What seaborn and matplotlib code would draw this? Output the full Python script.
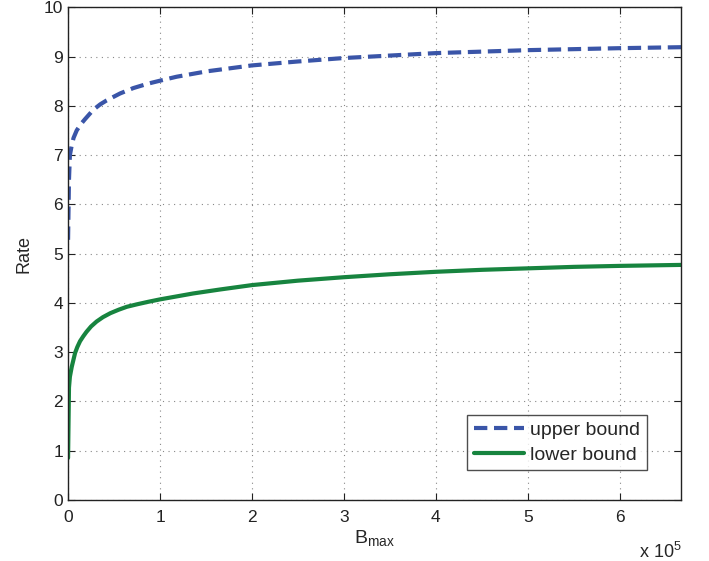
import seaborn as sns
import matplotlib.pyplot as plt
from matplotlib.ticker import FuncFormatter, MultipleLocator

# Values (x in units of B_max)
b_upper = [0, 1e3, 2e3, 4e3, 6e3, 9.4e3, 1.4e4, 1.85e4, 2.75e4, 3.5e4, 4.2e4,
           5.65e4, 7.1e4, 8.7e4, 1e5, 1.18e5, 1.51e5, 2e5, 2.5e5, 3e5, 3.5e5,
           4e5, 4.5e5, 5e5, 5.5e5, 6e5, 6.67e5]
rate_upper = [5.28, 6.5, 7.0, 7.2, 7.35, 7.5, 7.63, 7.73, 7.92, 8.03, 8.11,
              8.25, 8.36, 8.45, 8.51, 8.59, 8.7, 8.82, 8.9, 8.97, 9.02,
              9.07, 9.1, 9.13, 9.15, 9.17, 9.19]

b_lower = [0, 1e3, 2e3, 4e3, 7.6e3, 1e4, 1.3e4, 1.65e4, 2e4, 2.5e4, 3.1e4,
           3.8e4, 4.6e4, 5.5e4, 6.4e4, 7.5e4, 8.7e4, 1e5, 1.18e5, 1.36e5,
           1.65e5, 2e5, 2.5e5, 3e5, 3.5e5, 4e5, 4.5e5, 5e5, 5.5e5, 6e5, 6.67e5]
rate_lower = [0.85, 2.28, 2.5, 2.7, 2.98, 3.1, 3.22, 3.32, 3.41, 3.52, 3.62,
              3.71, 3.79, 3.86, 3.92, 3.97, 4.02, 4.07, 4.13, 4.19,
              4.27, 4.36, 4.45, 4.52, 4.58, 4.63, 4.67, 4.7, 4.73, 4.75, 4.77]

sns.set_theme(style='white')
plt.rcParams['font.family'] = ['Liberation Sans', 'DejaVu Sans']

fig, ax = plt.subplots(figsize=(7.09, 5.61), dpi=100)
fig.subplots_adjust(left=0.096, right=0.961, top=0.987, bottom=0.109)

sns.lineplot(x=b_upper, y=rate_upper, ax=ax, color='#3a55a8', lw=3,
             linestyle=(0, (3.2, 1.6)), label='upper bound')
sns.lineplot(x=b_lower, y=rate_lower, ax=ax, color='#17843f', lw=3,
             label='lower bound')

ax.set_xlim(0, 6.67e5)
ax.set_ylim(0, 10)
ax.xaxis.set_major_locator(MultipleLocator(1e5))
ax.yaxis.set_major_locator(MultipleLocator(1))
ax.xaxis.set_major_formatter(FuncFormatter(lambda v, p: '%d' % round(v / 1e5)))
ax.grid(True, color='#888888', linestyle=(0, (1, 4)), lw=0.8)
ax.tick_params(direction='in', length=5, width=0.8, labelsize=12.5,
               top=True, right=True, bottom=True, left=True, colors='#222222')
ax.tick_params(axis='x', pad=7)
for s in ax.spines.values():
    s.set_color('#222222')
    s.set_linewidth(1)

ax.set_xlabel('B$_{\\mathregular{max}}$', fontsize=14, labelpad=3)
ax.set_ylabel('Rate', fontsize=13, labelpad=8)
ax.text(1.0, -0.085, 'x 10$^{\\mathregular{5}}$', transform=ax.transAxes,
        ha='right', va='top', fontsize=13)

leg = ax.legend(loc='lower right', bbox_to_anchor=(0.96, 0.04), fontsize=14,
                frameon=True, fancybox=False, handlelength=2.6,
                handletextpad=0.3, borderpad=0.35, labelspacing=0.35)
leg.get_frame().set_edgecolor('#222222')
leg.get_frame().set_linewidth(1)

fig.savefig('out.png', dpi=100)
